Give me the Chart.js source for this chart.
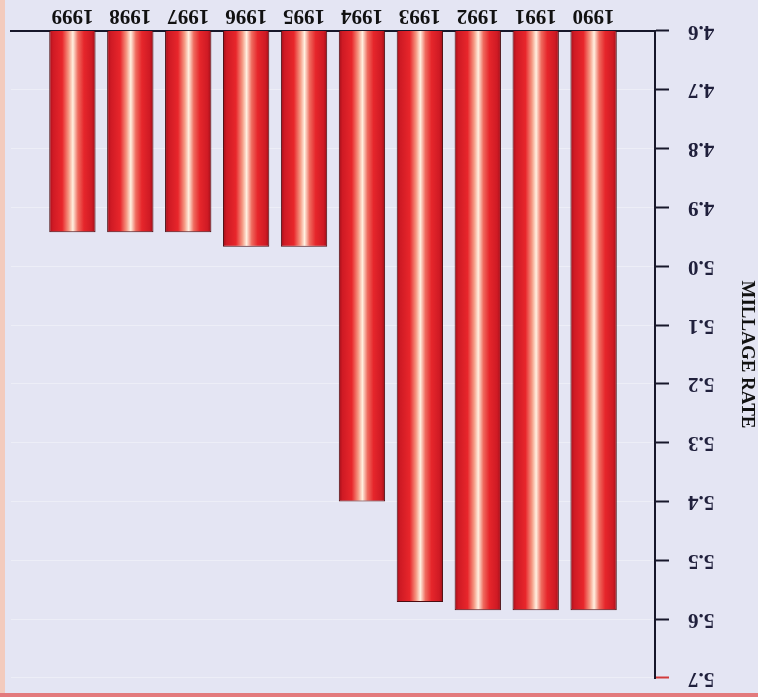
<!DOCTYPE html>
<html><head><meta charset="utf-8">
<script src="https://cdn.jsdelivr.net/npm/chart.js@4/dist/chart.umd.min.js"></script>
<style>
html,body{margin:0;padding:0;background:#e4e5f3;}
#wrap{position:relative;width:758px;height:697px;overflow:hidden;background:#e4e5f3;
  box-shadow: inset 0 -4px 0 #e37a7c, inset 5px 0 0 #f3cbbd;}
#box{position:absolute;left:0;top:0;width:758px;height:697px;transform:rotate(180deg);}
</style></head><body>
<div id="wrap"><div id="box"><canvas id="c"></canvas></div></div>
<script>
// Data (chart is photographed upside down: rotated 180°)
const years = [1990, 1991, 1992, 1993, 1994, 1995, 1996, 1997, 1998, 1999];
const millageRates = [5.585, 5.585, 5.585, 5.571, 5.40, 4.967, 4.967, 4.942, 4.942, 4.942];
const yTickValues = [4.6, 4.7, 4.8, 4.9, 5.0, 5.1, 5.2, 5.3, 5.4, 5.5, 5.6, 5.7];
const axisTitle = 'MILLAGE RATE';

const FONT = "'Liberation Serif', 'Times New Roman', serif";
const INK = '#17172a';

function barFill(context) {
  const fallback = '#dc1f27';
  if (context.type !== 'data') return fallback;
  const chart = context.chart;
  const xs = chart.scales && chart.scales.x;
  if (!xs) return fallback;
  const cx = xs.getPixelForValue(years[context.dataIndex]);
  const step = Math.abs(xs.getPixelForValue(years[1]) - xs.getPixelForValue(years[0]));
  const w = step * 0.8;
  if (!isFinite(cx) || !isFinite(w) || w <= 0) return fallback;
  const g = chart.ctx.createLinearGradient(cx - w / 2, 0, cx + w / 2, 0);
  g.addColorStop(0.00, '#9e0f18');
  g.addColorStop(0.08, '#cf1a24');
  g.addColorStop(0.25, '#e6262b');
  g.addColorStop(0.38, '#ef6a5e');
  g.addColorStop(0.49, '#fff0e0');
  g.addColorStop(0.58, '#f59a84');
  g.addColorStop(0.72, '#e8262b');
  g.addColorStop(0.92, '#cf1a24');
  g.addColorStop(1.00, '#a30f1a');
  return g;
}

new Chart(document.getElementById('c'), {
  type: 'bar',
  data: {
    datasets: [{
      data: years.map((y, i) => ({ x: y, y: millageRates[i] })),
      backgroundColor: barFill,
      borderColor: '#4a0c10',
      borderWidth: 1,
      barPercentage: 0.8,
      categoryPercentage: 1.0
    }]
  },
  options: {
    responsive: true,
    maintainAspectRatio: false,
    animation: false,
    devicePixelRatio: 1,
    layout: { padding: { top: 19, right: 11, bottom: 0, left: 0 } },
    plugins: { legend: { display: false }, tooltip: { enabled: false } },
    scales: {
      x: {
        type: 'linear',
        offset: false,
        min: 1988.94,
        max: 2000.06,
        grid: { display: false },
        border: { display: true, color: INK, width: 2 },
        ticks: {
          font: { family: FONT, size: 21, weight: 'bold' },
          color: '#111',
          padding: -5,
          autoSkip: false,
          maxRotation: 0,
          callback: v => String(v)
        },
        afterBuildTicks: s => { s.ticks = years.map(v => ({ value: v })); },
        afterFit: s => { s.height = 31; s.paddingLeft = 0; s.paddingRight = 0; }
      },
      y: {
        type: 'linear',
        min: 4.6,
        max: 5.7,
        grid: {
          color: 'rgba(255,255,255,0.35)',
          lineWidth: 1,
          tickColor: c => (c.index === yTickValues.length - 1 ? '#d23a3a' : INK),
          tickLength: 14,
          tickWidth: 2
        },
        border: { display: true, color: INK, width: 2 },
        ticks: {
          font: { family: FONT, size: 21, weight: 'bold' },
          color: '#20203c',
          padding: 19,
          callback: v => Number(v).toFixed(1)
        },
        afterBuildTicks: s => { s.ticks = yTickValues.map(v => ({ value: v })); },
        title: {
          display: true,
          text: axisTitle,
          color: '#111',
          font: { family: FONT, size: 19, weight: 'bold' },
          padding: { top: 0, bottom: 0 }
        },
        afterFit: s => { s.width = 103; s.paddingTop = 0; s.paddingBottom = 0; }
      }
    }
  }
});
</script>
</body></html>
